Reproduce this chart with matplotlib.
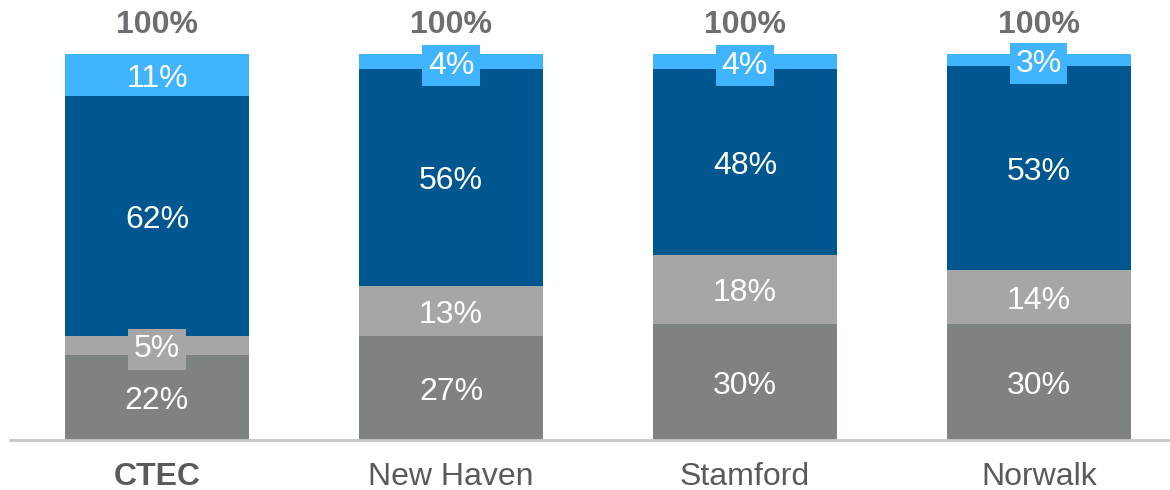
import matplotlib.pyplot as plt
import numpy as np

plt.rcParams['font.family'] = ['Liberation Sans', 'DejaVu Sans']

categories = ['CTEC', 'New Haven', 'Stamford', 'Norwalk']
seg_dark_gray = [22, 27, 30, 30]
seg_light_gray = [5, 13, 18, 14]
seg_dark_blue = [62, 56, 48, 53]
seg_light_blue = [11, 4, 4, 3]
totals = ['100%', '100%', '100%', '100%']

series = [seg_dark_gray, seg_light_gray, seg_dark_blue, seg_light_blue]
colors = ['#7f8283', '#a6a6a6', '#00578f', '#41b4ff']

fig = plt.figure(figsize=(11.7, 4.9), dpi=100)
ax = fig.add_axes([10 / 1170, 50 / 490, 1160 / 1170, 386 / 490])

x = np.arange(len(categories))
bottom = np.zeros(len(categories))
for vals, col in zip(series, colors):
    vals = np.array(vals, dtype=float)
    ax.bar(x, vals, bottom=bottom, width=0.625, color=col, linewidth=0)
    for xi, v, b in zip(x, vals, bottom):
        kw = {}
        if v < 10:
            # small segments get a box so the label stays readable
            kw['bbox'] = dict(boxstyle='square,pad=0.17', fc=col, ec='none')
        ax.text(xi, b + v / 2 - 1.0, f'{int(v)}%', ha='center', va='center',
                color='white', fontsize=23, **kw)
    bottom += vals

for xi, t, b in zip(x, totals, bottom):
    ax.text(xi, b + 7.6, t, ha='center', va='center', color='#6d6e71',
            fontsize=23, fontweight='bold', clip_on=False)

ax.set_xlim(-0.5, 3.446)
ax.set_ylim(0, 100)
ax.set_yticks([])
ax.set_xticks(x)
ax.set_xticklabels(categories, fontsize=23, color='#595a5c')
ax.get_xticklabels()[0].set_fontweight('bold')
ax.tick_params(axis='x', length=0, pad=16)
for s in ['top', 'right', 'left']:
    ax.spines[s].set_visible(False)
ax.spines['bottom'].set_color('#c8c8c8')
ax.spines['bottom'].set_linewidth(2)

fig.savefig('out.png', dpi=100)
